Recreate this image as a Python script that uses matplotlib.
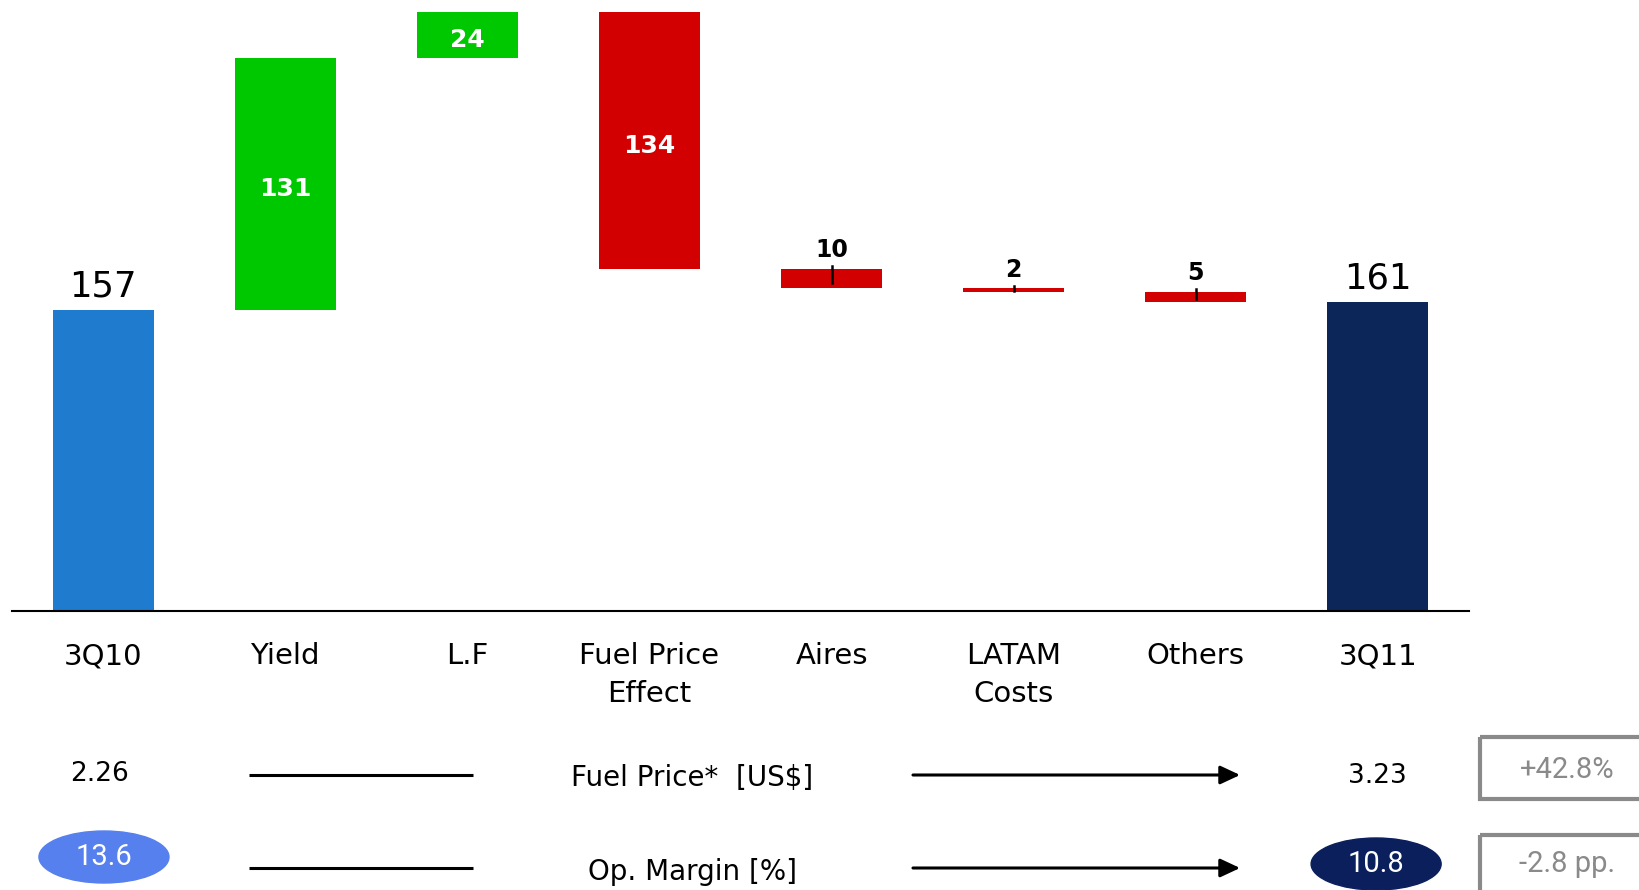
import numpy as np
import matplotlib.pyplot as plt
from matplotlib.patches import Ellipse, Rectangle

# ---- data -------------------------------------------------------------------
categories = ['3Q10', 'Yield', 'L.F', 'Fuel Price\nEffect', 'Aires',
              'LATAM\nCosts', 'Others', '3Q11']
start_value = 157
changes = [131, 24, -134, -10, -2, -5]
end_value = 161

fuel_price = [2.26, 3.23]
fuel_change = '+42.8%'
op_margin = [13.6, 10.8]
margin_change = '-2.8 pp.'

# ---- styling ----------------------------------------------------------------
c_start = '#1F7BCE'
c_up = '#00C800'
c_down = '#D20000'
c_end = '#0C2659'
c_ell_start = '#5580EE'
c_ell_end = '#0A1F5C'
c_box = '#8A8A8A'

plt.rcParams['font.family'] = ['DejaVu Sans']

fig = plt.figure(figsize=(16.4, 8.9), dpi=100)
ax = fig.add_axes([12 / 1640, 1 - 611 / 890, 1457 / 1640, 611 / 890])

x = np.arange(len(categories))
w = 0.555

# running total after every step: 157, 288, 312, 178, ...
running = np.concatenate([[start_value], start_value + np.cumsum(changes)])

ax.bar(x[0], start_value, w, color=c_start)
ax.bar(x[-1], end_value, w, color=c_end)
for xv, total in [(x[0], start_value), (x[-1], end_value)]:
    ax.annotate(f"{total}", (xv, total), xytext=(0, 9.5), textcoords='offset points',
                ha='center', va='baseline', fontsize=25.5, color='black')

for i, ch in enumerate(changes):
    lo = min(running[i], running[i + 1])
    hi = max(running[i], running[i + 1])
    xi = x[i + 1]
    ax.bar(xi, abs(ch), w, bottom=lo, color=c_up if ch > 0 else c_down)
    if abs(ch) >= 20:
        ax.annotate(f"{abs(ch)}", (xi, (lo + hi) / 2), xytext=(0, -1.8),
                    textcoords='offset points', ha='center', va='center_baseline',
                    fontsize=18, fontweight='bold', color='white')
    else:
        # small marker tick + value above the bar
        ax.plot([xi, xi], [lo + 0.3 * abs(ch), hi + 1.5], color='black', lw=1.8)
        ax.annotate(f"{abs(ch)}", (xi, hi), xytext=(0, 8.5), textcoords='offset points',
                    ha='center', va='baseline', fontsize=17, fontweight='bold',
                    color='black')

ax.set_xlim(-0.5, 7.5)
ax.set_ylim(0, 318.2)
for s in ['top', 'right', 'left']:
    ax.spines[s].set_visible(False)
ax.spines['bottom'].set_linewidth(1.5)
ax.set_yticks([])
ax.set_xticks(x, categories, fontsize=21, linespacing=1.45)
ax.tick_params(axis='x', length=0, pad=22.5)

# ---- lower rows (fuel price / op. margin) -------------------------------------
lax = fig.add_axes([12 / 1640, 0, 1457 / 1640, 190 / 890])
lax.set_xlim(-0.5, 7.5)
lax.set_ylim(890, 700)
lax.axis('off')

row1, row2 = 775, 868

lax.text(-0.02, row1 - 1, f"{fuel_price[0]:.2f}", ha='center', va='center', fontsize=19)
lax.text(6.995, row1 + 1, f"{fuel_price[1]:.2f}", ha='center', va='center', fontsize=19)
lax.plot([0.80, 2.03], [row1, row1], color='black', lw=2.2, solid_capstyle='butt')
lax.text(3.234, row1 + 3, "Fuel Price*  [US$]", ha='center', va='center', fontsize=20)
lax.annotate('', xy=(6.243, row1), xytext=(4.447, row1),
             arrowprops=dict(arrowstyle='-|>,head_length=0.6,head_width=0.28',
                             color='black', lw=2.2, mutation_scale=20,
                             shrinkA=0, shrinkB=0))

lax.add_patch(Rectangle((7.56, 737), 1.2, 62, fill=False, ec=c_box, lw=3, clip_on=False))
lax.text(8.038, 770, fuel_change, ha='center', va='center', fontsize=21,
         family='Roboto', color=c_box)

lax.add_patch(Ellipse((0.005, 857), 0.714, 52, color=c_ell_start, clip_on=False))
lax.text(0.005, 857, f"{op_margin[0]:.1f}", ha='center', va='center', fontsize=21,
         family='Roboto', color='white')
lax.add_patch(Ellipse((6.99, 864), 0.714, 52, color=c_ell_end, clip_on=False))
lax.text(6.99, 864, f"{op_margin[1]:.1f}", ha='center', va='center', fontsize=21,
         family='Roboto', color='white')
lax.plot([0.80, 2.03], [row2, row2], color='black', lw=2.2, solid_capstyle='butt')
lax.text(3.234, row2 + 4, "Op. Margin [%]", ha='center', va='center', fontsize=20)
lax.annotate('', xy=(6.243, row2), xytext=(4.447, row2),
             arrowprops=dict(arrowstyle='-|>,head_length=0.6,head_width=0.28',
                             color='black', lw=2.2, mutation_scale=20,
                             shrinkA=0, shrinkB=0))

lax.add_patch(Rectangle((7.56, 835), 1.2, 80, fill=False, ec=c_box, lw=3, clip_on=False))
lax.text(8.038, 864, margin_change, ha='center', va='center', fontsize=21,
         family='Roboto', color=c_box)

fig.savefig('out.png', dpi=100)
